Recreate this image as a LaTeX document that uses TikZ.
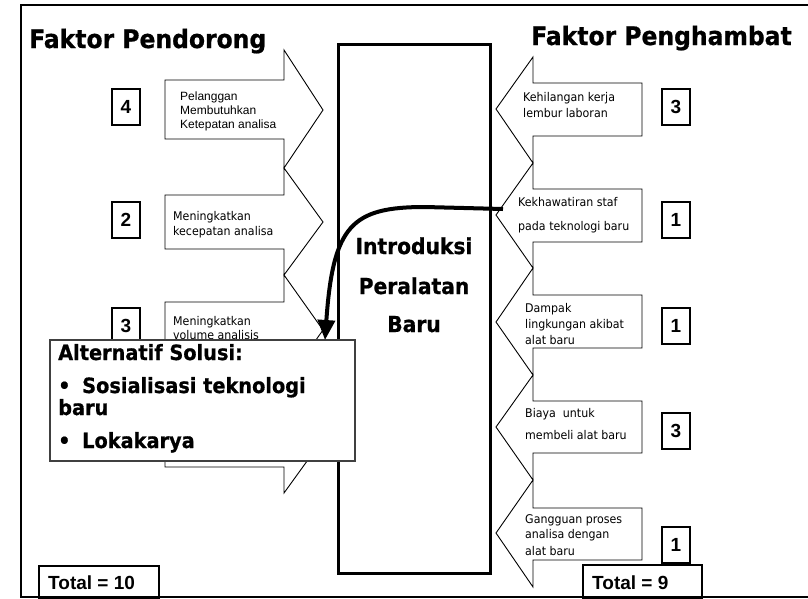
\documentclass[tikz,border=0pt]{standalone}
\usepackage{fontspec}
\setmainfont{Liberation Sans}
\newfontfamily\tahoma[FakeStretch=0.92,BoldFeatures={FakeBold=0.7}]{DejaVu Sans}
\usetikzlibrary{arrows.meta}

% left-pointing and right-pointing block arrows:
% #1 head top, #2 shaft top, #3 tip, #4 shaft bottom, #5 head bottom
\newcommand\pusharrow[5]{%
  \draw[arrowshape] (165,#2) -- (284,#2) -- (284,#1) -- (323,#3) -- (284,#5)
    -- (284,#4) -- (165,#4) -- cycle;}
\newcommand\holdarrow[5]{%
  \draw[arrowshape] (642,#2) -- (533,#2) -- (533,#1) -- (496,#3) -- (533,#5)
    -- (533,#4) -- (642,#4) -- cycle;}

\begin{document}
\begin{tikzpicture}[x=1pt,y=-1pt,
  arrowshape/.style={draw=black,line width=0.9pt,fill=white,line join=miter},
  numbox/.style={draw,line width=2pt,minimum width=28pt,minimum height=36pt,
    inner sep=0pt,font=\bfseries\fontsize{19}{19}\selectfont},
  ttl/.style={font=\tahoma\bfseries\fontsize{25.5}{25.5}\selectfont,anchor=base west,inner sep=0pt},
  ctr/.style={font=\tahoma\bfseries\fontsize{22}{22}\selectfont,anchor=base,inner sep=0pt},
  soltxt/.style={font=\tahoma\bfseries\fontsize{21}{21}\selectfont,anchor=base west,inner sep=0pt},
  lbl/.style={font=\tahoma\fontsize{12}{13}\selectfont,anchor=base west,inner sep=0pt},
  albl/.style={font=\fontsize{12}{14}\selectfont,anchor=base west,inner sep=0pt},
  tot/.style={font=\bfseries\fontsize{19}{19}\selectfont,anchor=base west,inner sep=0pt},
  totbox/.style={draw,line width=2pt,fill=white}]
\useasboundingbox (0,0) rectangle (808,598);
\fill[white] (0,0) rectangle (808,598);

% outer frame
\draw[line width=2pt] (808,4.5) -- (21,4.5) -- (21,597) -- (808,597);

% titles
\node[ttl] (tpush) at (29,48) {Faktor Pendorong};
\node[ttl] (thold) at (531,45) {Faktor Penghambat};

% driving forces
\pusharrow{50}{80}{110}{139}{168}
\pusharrow{168}{195}{222}{249}{275}
\pusharrow{275}{302}{330}{358}{385}
\pusharrow{385}{410}{439}{467}{493}

% restraining forces
\holdarrow{57}{83}{109}{136}{163}
\holdarrow{163}{189}{215}{242}{268}
\holdarrow{268}{295}{322}{348}{375}
\holdarrow{375}{401}{427}{453}{480}
\holdarrow{480}{508}{533}{560}{587}

% arrow labels, left
\node[albl] (p1a) at (180,100) {Pelanggan};
\node[albl] (p1b) at (180,114) {Membutuhkan};
\node[albl] (p1c) at (180,128) {Ketepatan analisa};
\node[lbl] (p2a) at (173,220) {Meningkatkan};
\node[lbl] (p2b) at (173,235) {kecepatan analisa};
\node[lbl] (p3a) at (173,325) {Meningkatkan};
\node[lbl] (p3b) at (173,339) {volume analisis};

% arrow labels, right
\node[lbl] (h1a) at (523,101) {Kehilangan kerja};
\node[lbl] (h1b) at (523,117) {lembur laboran};
\node[lbl] (h2a) at (518,206) {Kekhawatiran staf};
\node[lbl] (h2b) at (518,230) {pada teknologi baru};
\node[lbl] (h3a) at (525,312) {Dampak};
\node[lbl] (h3b) at (525,328) {lingkungan akibat};
\node[lbl] (h3c) at (525,344) {alat baru};
\node[lbl] (h4a) at (525,417) {Biaya\ \ untuk};
\node[lbl] (h4b) at (525,439) {membeli alat baru};
\node[lbl] (h5a) at (525,523) {Gangguan proses};
\node[lbl] (h5b) at (525,538) {analisa dengan};
\node[lbl] (h5c) at (525,555) {alat baru};

% scores
\node[numbox] (s1) at (126,107) {4};
\node[numbox] (s2) at (126,219.5) {2};
\node[numbox] (s3) at (126,325.5) {3};
\node[numbox] (r1) at (676,106.5) {3};
\node[numbox] (r2) at (676,219.5) {1};
\node[numbox] (r3) at (676,325.5) {1};
\node[numbox] (r4) at (676,431) {3};
\node[numbox] (r5) at (676,545) {1};

% central change
\node[draw,line width=3pt,minimum width=152pt,minimum height=529pt,inner sep=0pt] (core) at (414,308.5) {};
\node[ctr] (c1) at (414,254) {Introduksi};
\node[ctr] (c2) at (414,294) {Peralatan};
\node[ctr] (c3) at (414,332) {Baru};

% solution callout
\node[draw=black!75,line width=1.3pt,fill=white,minimum width=305pt,minimum height=121pt,inner sep=0pt] (sol) at (202.5,400.5) {};
\node[soltxt] (sl1) at (58,360) {Alternatif Solusi:};
\node[soltxt] (sb1) at (58,393) {\textbullet};
\node[soltxt] (sl2) at (82,393) {Sosialisasi teknologi};
\node[soltxt] (sl3) at (58,415) {baru};
\node[soltxt] (sb2) at (58,448) {\textbullet};
\node[soltxt] (sl4) at (82,448) {Lokakarya};

% link from staff concern to the solution
\coordinate (cstart) at (503,209);
\coordinate (cend) at (325,340);
\draw[line width=4pt,-{Triangle[length=20pt,width=17pt]}]
  (cstart) -- (425,207) .. controls (352,207) and (333,225) .. (cend);

% totals
\draw[totbox] (39,566) rectangle (159,598);
\node[tot] (tl) at (48,589) {Total = 10};
\draw[totbox] (583,565) rectangle (702,598);
\node[tot] (tr) at (592,589) {Total = 9};
\draw[line width=2pt] (21,597) -- (808,597);
\end{tikzpicture}
\end{document}
